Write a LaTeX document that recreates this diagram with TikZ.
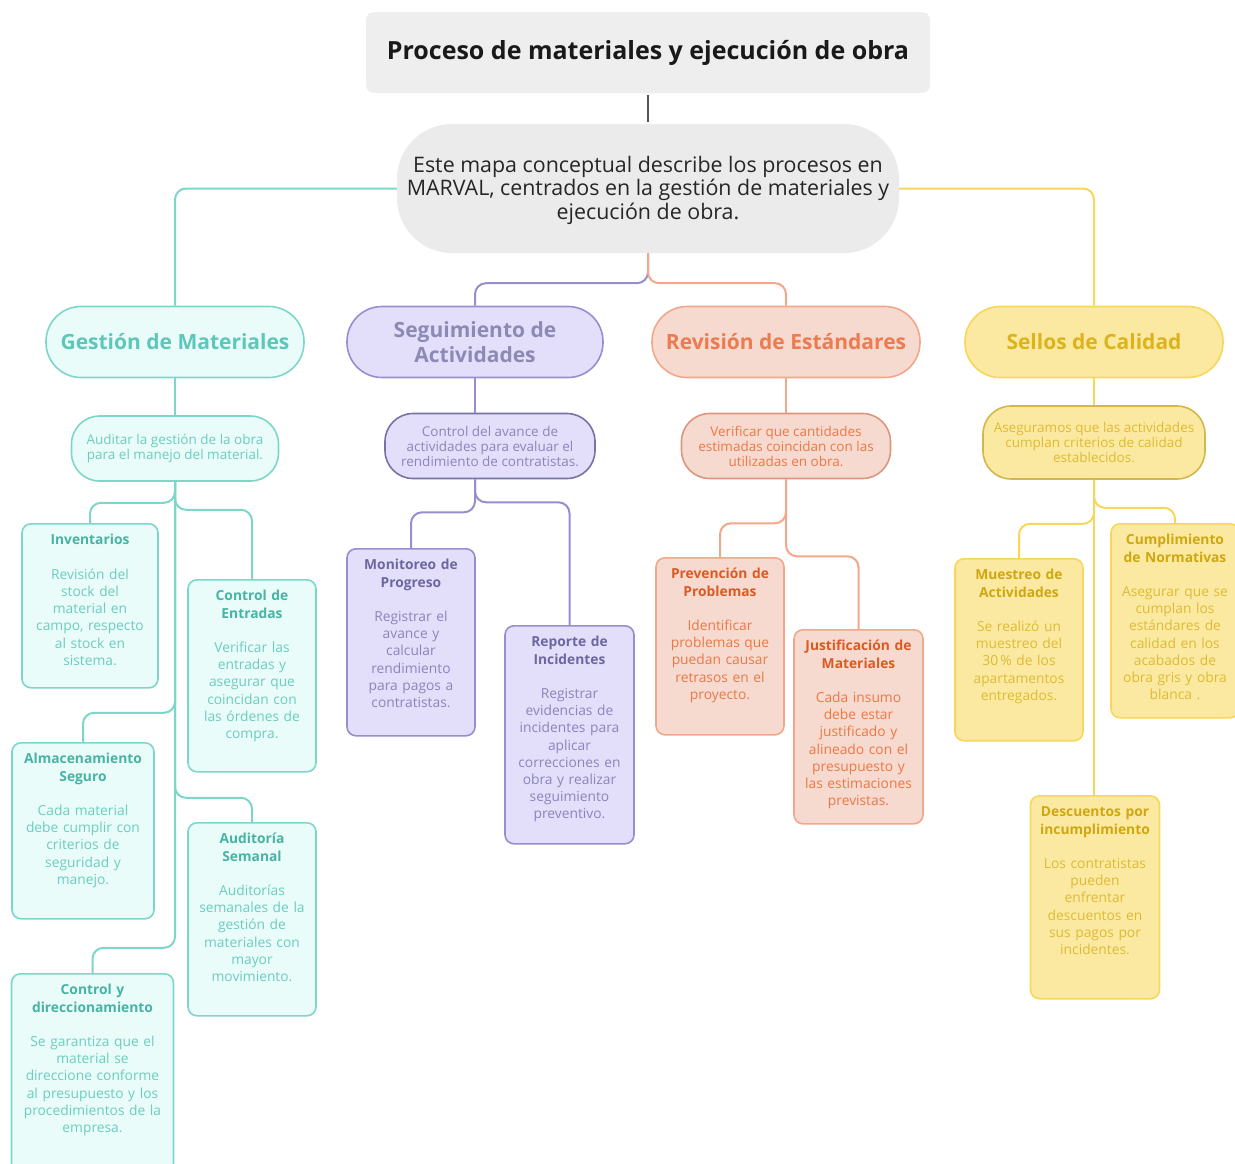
\documentclass[tikz,border=0pt]{standalone}
\usepackage{fontspec}
\setmainfont{Open Sans}
\usepackage{xcolor}
\usetikzlibrary{calc}
\definecolor{gtit}{HTML}{EEEEEE}
\definecolor{gcen}{HTML}{EBEBEB}
\definecolor{gline}{HTML}{555555}
\definecolor{mline}{HTML}{7DD6CA}
\definecolor{mfill}{HTML}{EAFCFA}
\definecolor{mhead}{HTML}{5CC8B9}
\definecolor{mtit}{HTML}{47B3A3}
\definecolor{mbody}{HTML}{6ACDBF}
\definecolor{sline}{HTML}{958ECF}
\definecolor{sfill}{HTML}{E3DFFA}
\definecolor{shead}{HTML}{8D89B5}
\definecolor{stit}{HTML}{6D67A0}
\definecolor{sbody}{HTML}{8B85BA}
\definecolor{rline}{HTML}{F3A78A}
\definecolor{rfill}{HTML}{F6DAD0}
\definecolor{rhead}{HTML}{EE7B4E}
\definecolor{rtit}{HTML}{DB5A22}
\definecolor{rbody}{HTML}{EC7844}
\definecolor{yline}{HTML}{F8D65A}
\definecolor{yfill}{HTML}{FCE9A1}
\definecolor{yhead}{HTML}{DDB31B}
\definecolor{ytit}{HTML}{CFA711}
\definecolor{ybody}{HTML}{DDBB35}
\tikzstyle{l1}=[line width=2pt, rounded corners=11pt]
\tikzstyle{lgray}=[l1, draw=gline]
\tikzstyle{lmat}=[l1, draw=mline]
\tikzstyle{lseg}=[l1, draw=sline]
\tikzstyle{lrev}=[l1, draw=rline]
\tikzstyle{lsel}=[l1, draw=yline]
\tikzstyle{pill}=[rectangle, rounded corners=35pt, line width=1.6pt, minimum height=71pt, align=center, font=\bfseries\fontsize{21}{25}\selectfont]
\tikzstyle{desc}=[rectangle, rounded corners=28pt, line width=1.6pt, minimum height=65pt, align=center, font=\fontsize{13.5}{15}\selectfont]
\tikzstyle{card}=[rectangle, rounded corners=9pt, line width=1.6pt, anchor=north, inner xsep=4pt, inner ysep=8pt, text height=13pt, align=center, font=\fontsize{13.8}{17.2}\selectfont]
\tikzstyle{mpill}=[pill, fill=mfill, draw=mline, text=mhead]
\tikzstyle{spill}=[pill, fill=sfill, draw=sline, text=shead]
\tikzstyle{rpill}=[pill, fill=rfill, draw=rline, text=rhead]
\tikzstyle{ypill}=[pill, fill=yfill, draw=yline, text=yhead]
\tikzstyle{mdesc}=[desc, fill=mfill, draw=mline, text=mbody]
\tikzstyle{sdesc}=[desc, fill=sfill, draw=sline!80!black, text=sbody]
\tikzstyle{rdesc}=[desc, fill=rfill, draw=rline!90!black, text=rbody]
\tikzstyle{ydesc}=[desc, fill=yfill, draw=yline!85!black, text=ybody]
\tikzstyle{mcard}=[card, fill=mfill, draw=mline, text=mbody]
\tikzstyle{scard}=[card, fill=sfill, draw=sline, text=sbody]
\tikzstyle{rcard}=[card, fill=rfill, draw=rline, text=rbody]
\tikzstyle{ycard}=[card, fill=yfill, draw=yline, text=ybody]

\begin{document}
\begin{tikzpicture}[x=1pt,y=-1pt]
    \useasboundingbox (0,0) rectangle (1235,1163);

    % cabecera
    \node[fill=gtit, rounded corners=8pt, minimum width=564pt, minimum height=81pt, font=\bfseries\fontsize{25}{28}\selectfont, text=black!90] (tit) at (648,52.5) {\raisebox{-3pt}{Proceso de materiales y ejecución de obra}};
    \node[fill=gcen, rounded corners=55pt, minimum width=502pt, minimum height=129pt, align=center, font=\fontsize{21.4}{23.5}\selectfont, text=black!85] (cen) at (648,188.5) {\\[-4pt]Este mapa conceptual describe los procesos en\\MARVAL, centrados en la gestión de materiales y\\ejecución de obra.};

    % ramas principales
    \node[mpill, minimum width=258pt] (gm) at (175,342) {Gestión de Materiales};
    \node[spill, minimum width=256pt] (sa) at (475,342) {Seguimiento de\\Actividades};
    \node[rpill, minimum width=268pt] (re) at (786,342) {Revisión de Estándares};
    \node[ypill, minimum width=258pt] (se) at (1094,342) {Sellos de Calidad};

    \node[mdesc, minimum width=207pt] (gmd) at (175,448.5) {Auditar la gestión de la obra\\para el manejo del material.};
    \node[sdesc, minimum width=210pt] (sad) at (490,446) {Control del avance de\\actividades para evaluar el\\rendimiento de contratistas.};
    \node[rdesc, minimum width=209pt] (red) at (786,446) {Verificar que cantidades\\estimadas coincidan con las\\utilizadas en obra.};
    \node[ydesc, minimum width=222pt, minimum height=73pt] (sed) at (1094,442.5) {Aseguramos que las actividades\\cumplan criterios de calidad\\establecidos.};

    % tarjetas
    \node[mcard, text width=128pt, text depth=135pt] (inv) at (90,523) {\textcolor{mtit}{\bfseries Inventarios}\\[17.2pt]Revisión del\\stock del\\material en\\campo, respecto\\al stock en\\sistema.};
    \node[mcard, text width=120pt, text depth=163pt] (ce) at (252,579) {\textcolor{mtit}{\bfseries Control de\\Entradas}\\[17.2pt]Verificar las\\entradas y\\asegurar que\\coincidan con\\las órdenes de\\compra.};
    \node[mcard, text width=134pt, text depth=147pt] (alm) at (83,742) {\textcolor{mtit}{\bfseries Almacenamiento\\Seguro}\\[17.2pt]Cada material\\debe cumplir con\\criterios de\\seguridad y\\manejo.};
    \node[mcard, text width=120pt, text depth=164pt] (aud) at (252,822) {\textcolor{mtit}{\bfseries Auditoría\\Semanal}\\[17.2pt]Auditorías\\semanales de la\\gestión de\\materiales con\\mayor\\movimiento.};
    \node[mcard, text width=154pt, text depth=170pt] (cyd) at (92.5,973) {\textcolor{mtit}{\bfseries Control y\\direccionamiento}\\[17.2pt]Se garantiza que el\\material se\\direccione conforme\\al presupuesto y los\\procedimientos de la\\empresa.};

    \node[scard, text width=120pt, text depth=158pt] (mon) at (411,548) {\textcolor{stit}{\bfseries Monitoreo de\\Progreso}\\[17.2pt]Registrar el\\avance y\\calcular\\rendimiento\\para pagos a\\contratistas.};
    \node[scard, text width=121pt, text depth=189pt] (rep) at (569.5,625) {\textcolor{stit}{\bfseries Reporte de\\Incidentes}\\[17.2pt]Registrar\\evidencias de\\incidentes para\\aplicar\\correcciones en\\obra y realizar\\seguimiento\\preventivo.};

    \node[rcard, text width=120pt, text depth=148pt] (pre) at (720,557) {\textcolor{rtit}{\bfseries Prevención de\\Problemas}\\[17.2pt]Identificar\\problemas que\\puedan causar\\retrasos en el\\proyecto.};
    \node[rcard, text width=121pt, text depth=165pt] (jus) at (858.5,629) {\textcolor{rtit}{\bfseries Justificación de\\Materiales}\\[17.2pt]Cada insumo\\debe estar\\justificado y\\alineado con el\\presupuesto y\\las estimaciones\\previstas.};

    \node[ycard, text width=120pt, text depth=153pt] (mue) at (1019,558) {\textcolor{ytit}{\bfseries Muestreo de\\Actividades}\\[17.2pt]Se realizó un\\muestreo del\\30\,\% de los\\apartamentos\\entregados.};
    \node[ycard, text width=120pt, text depth=165pt] (cum) at (1175,523) {\textcolor{ytit}{\bfseries Cumplimiento\\de Normativas}\\[17.2pt]Asegurar que se\\cumplan los\\estándares de\\calidad en los\\acabados de\\obra gris y obra\\blanca .};
    \node[ycard, text width=121pt, text depth=174pt] (des) at (1095,795) {\textcolor{ytit}{\bfseries Descuentos por\\incumplimiento}\\[17.2pt]Los contratistas\\pueden\\enfrentar\\descuentos en\\sus pagos por\\incidentes.};

    % conectores
    \draw[lgray, shorten <=2pt, shorten >=2pt] (tit) -- (cen);
    \draw[lmat] (cen.west) -| (gm.north);
    \draw[lsel] (cen.east) -| (se.north);
    \draw[lseg] (cen.south) -- ++(0,30) -| (sa.north);
    \draw[lrev] (cen.south) -- ++(0,30) -| (re.north);

    \draw[lmat] (gm) -- (gmd);
    \draw[lseg] (sa.south) -- (sa.south |- sad.north);
    \draw[lrev] (re) -- (red);
    \draw[lsel] (se) -- (sed);

    \draw[lmat] (gmd.south) -- ++(0,21) -| (inv.north);
    \draw[lmat] (gmd.south) -- ++(0,28) -| (ce.north);
    \draw[lmat] (gmd.south) -- ++(0,231) -| (alm.north);
    \draw[lmat] (gmd.south) -- ++(0,316) -| (aud.north);
    \draw[lmat] (gmd.south) -- ++(0,466) -| (cyd.north);

    \draw[lseg] (sa.south |- sad.south) -- ++(0,33) -| (mon.north);
    \draw[lseg] (sa.south |- sad.south) -- ++(0,23) -| (rep.north);

    \draw[lrev] (red.south) -- ++(0,44) -| (pre.north);
    \draw[lrev] (red.south) -- ++(0,77) -| (jus.north);

    \draw[lsel] (sed.south) -- ++(0,44) -| (mue.north);
    \draw[lsel] (sed.south) -- ++(0,28) -| (cum.north);
    \draw[lsel] (sed.south) -- (sed.south |- des.north);
\end{tikzpicture}
\end{document}
